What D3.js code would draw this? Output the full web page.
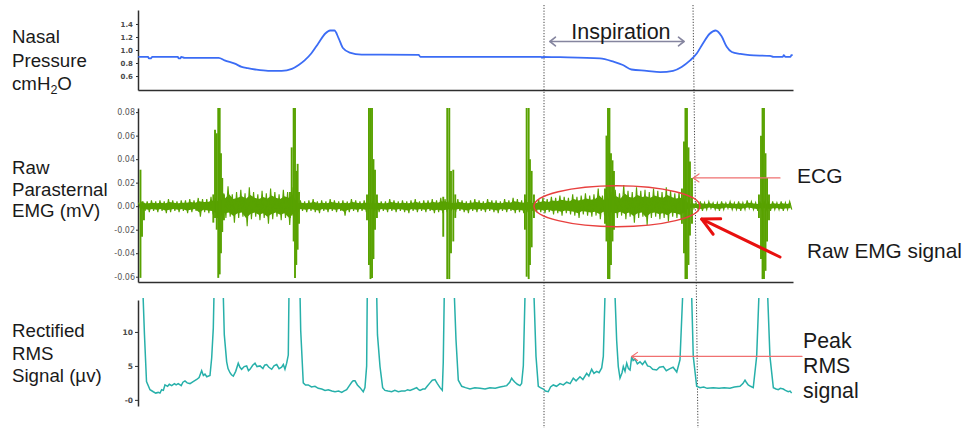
<!DOCTYPE html>
<html><head><meta charset="utf-8">
<script src="https://cdn.jsdelivr.net/npm/d3@7/dist/d3.min.js"></script>
<style>
html,body{margin:0;padding:0;background:#fff;}
svg{display:block;font-family:"Liberation Sans",Arial,sans-serif;}
</style>
</head><body>
<svg id="chart" width="965" height="428"></svg>
<script>
// ---------------- DATA ----------------
// time axis: seconds past 1:43:00
const timeDomain = [48.912, 56.609];
const xTickSeconds = [49, 50, 51, 52, 53, 54, 55, 56];
const xTickLabels = ["1:43:49","1:43:50","1:43:51","1:43:52","1:43:53","1:43:54","1:43:55","1:43:56"];

// Nasal pressure (cmH2O): [time, value]
const pressureTicks = [0.6, 0.8, 1.0, 1.2, 1.4];
const pressureSamples = [[48.915,0.895],[49.03,0.895],[49.04,0.87],[49.06,0.87],[49.08,0.895],[49.38,0.895],[49.39,0.87],[49.41,0.87],[49.42,0.895],[49.46,0.88],[49.86,0.88],[49.93,0.84],[50.05,0.79],[50.13,0.74],[50.20,0.72],[50.29,0.70],[50.44,0.68],[50.60,0.68],[50.72,0.71],[50.80,0.77],[50.87,0.84],[50.95,0.95],[51.03,1.10],[51.11,1.25],[51.17,1.30],[51.22,1.30],[51.27,1.18],[51.32,1.03],[51.40,0.96],[51.54,0.93],[52.21,0.925],[52.23,0.895],[53.65,0.895],[53.66,0.88],[53.67,0.895],[53.87,0.89],[54.34,0.87],[54.50,0.82],[54.61,0.77],[54.71,0.70],[54.89,0.68],[55.05,0.66],[55.20,0.68],[55.30,0.74],[55.40,0.84],[55.48,0.95],[55.55,1.10],[55.63,1.25],[55.70,1.30],[55.77,1.21],[55.83,1.05],[55.89,0.97],[55.99,0.94],[56.10,0.92],[56.34,0.91],[56.38,0.895],[56.49,0.895],[56.50,0.92],[56.52,0.895],[56.58,0.895],[56.59,0.92],[56.605,0.92]];

// Raw parasternal EMG (mV): noise envelope sampled every 0.05 s
const emgTicks = [-0.06,-0.04,-0.02,0.00,0.02,0.04,0.06,0.08];
const emgNoiseStart = 48.92;
const emgNoiseStep = 0.05;
const emgNoiseHigh = [
 .003,.004,.004,.005,.004,.005,.004,.006,.005,.004,.005,.005,.006,.005,.007,.006,.006,.008,.007,
 .009,.011,.017,.010,.012,.014,.011,.016,.012,.010,.013,.011,.015,.012,.010,.014,.012,.016,
 .004,.005,.004,.005,.006,.004,.005,.004,.006,.005,.004,.005,.004,.006,.005,.004,.005,.004,
 .004,.005,.004,.004,.006,.005,.004,.005,.004,.005,.006,.004,.005,.005,.006,.005,.007,.006,
 .005,.004,.006,.005,.004,.005,.006,.005,.004,.006,.005,.005,.004,.006,.005,.007,.006,.005,.006,
 .005,.004,.006,.007,.006,.008,.007,.009,.008,.007,.010,.008,.009,.011,.009,.010,.015,.009,.011,
 .012,.014,.011,.018,.013,.012,.016,.013,.014,.012,.015,.013,.012,.016,.013,.011,.012,.010,
 .003,.004,.003,.004,.003,.004,.003,.003,.004,.003,.004,.003,.004,.003,.005,.004,.003,.004,
 .004,.003,.004,.003,.004,.003,.004];
const emgNoiseLow = [
 -.003,-.004,-.005,-.004,-.005,-.004,-.006,-.005,-.004,-.005,-.004,-.006,-.005,-.004,-.009,-.005,-.006,-.007,-.010,
 -.008,-.010,-.009,-.014,-.010,-.009,-.017,-.011,-.009,-.012,-.010,-.015,-.011,-.009,-.012,-.010,-.016,-.011,
 -.005,-.004,-.005,-.004,-.005,-.006,-.004,-.005,-.004,-.005,-.004,-.008,-.005,-.004,-.005,-.004,-.005,-.004,
 -.004,-.005,-.004,-.005,-.004,-.005,-.004,-.005,-.006,-.004,-.005,-.004,-.005,-.004,-.006,-.005,-.006,-.005,
 -.004,-.005,-.004,-.005,-.006,-.004,-.005,-.004,-.005,-.004,-.005,-.006,-.004,-.005,-.004,-.006,-.005,-.006,-.005,
 -.004,-.005,-.005,-.006,-.005,-.007,-.006,-.008,-.006,-.007,-.008,-.010,-.007,-.008,-.009,-.008,-.011,-.008,-.009,
 -.009,-.010,-.008,-.011,-.009,-.014,-.010,-.009,-.016,-.010,-.009,-.011,-.010,-.013,-.009,-.010,-.012,-.009,
 -.003,-.002,-.003,-.004,-.003,-.002,-.003,-.004,-.003,-.002,-.003,-.003,-.004,-.003,-.002,-.003,-.004,-.003,
 -.003,-.004,-.003,-.003,-.004,-.003,-.003];
// ECG complexes in the EMG trace: [time, high, low]
const emgSpikes = [
 [48.941,.031,-.061],[48.959,.004,-.026],[48.982,.003,-.012],
 [49.797,.010,-.014],[49.817,.065,-.010],[49.837,.062,-.020],[49.855,.0835,-.061],[49.872,.0835,-.058],[49.887,.045,-.040],[49.902,.024,-.022],[49.922,.010,-.012],
 [50.698,.012,-.010],[50.718,.050,-.008],[50.741,.0835,-.030],[50.757,.0835,-.061],[50.772,.030,-.050],[50.788,.036,-.037],[50.804,.012,-.015],
 [51.603,.010,-.012],[51.626,.0835,-.050],[51.644,.0835,-.062],[51.662,.0835,-.061],[51.679,.040,-.045],[51.697,.031,-.020],[51.720,.010,-.010],
 [52.499,.008,-.026],[52.546,.0835,-.062],[52.570,.0835,-.062],[52.590,.030,-.040],[52.617,.031,-.030],[52.640,.010,-.010],
 [53.459,.010,-.020],[53.479,.0835,-.060],[53.503,.0835,-.062],[53.518,.040,-.050],[53.538,.030,-.035],[53.565,.010,-.010],
 [54.400,.015,-.015],[54.417,.060,-.030],[54.435,.0835,-.062],[54.452,.0835,-.062],[54.470,.045,-.050],[54.488,.039,-.030],[54.505,.030,-.020],
 [55.304,.015,-.015],[55.328,.055,-.040],[55.345,.0835,-.062],[55.363,.0835,-.062],[55.381,.050,-.050],[55.398,.038,-.025],[55.422,.024,-.015],
 [56.209,.010,-.010],[56.233,.060,-.045],[56.251,.0835,-.062],[56.268,.0835,-.062],[56.286,.045,-.055],[56.304,.024,-.030],[56.327,.010,-.012]];

// Rectified RMS signal (µV): [time, value]
const rmsTicks = [0, 5, 10];
const rmsTickLabels = ["-0", "5", "10"];
const rmsSamples = [
 [48.971,15.5],[48.988,9.6],[49.012,2.7],[49.053,1.5],[49.092,1.2],[49.12,1.0],[49.150,1.1],[49.17,1.0],[49.190,1.5],[49.21,1.4],[49.229,2.2],[49.26,2.0],[49.28,2.3],[49.308,2.1],[49.34,2.4],[49.36,2.2],[49.385,2.4],[49.42,2.1],[49.44,2.6],[49.464,2.8],[49.49,2.5],[49.523,2.4],[49.56,2.7],[49.602,3.0],[49.63,3.3],[49.660,4.3],[49.68,3.6],[49.699,3.8],[49.72,3.4],[49.758,3.6],[49.778,6.2],[49.797,10.6],[49.805,15.5],
 [49.914,15.5],[49.926,9.6],[49.954,5.6],[49.97,4.6],[49.993,4.0],[50.01,3.7],[50.032,3.5],[50.06,4.2],[50.090,5.4],[50.11,4.8],[50.130,4.5],[50.16,4.9],[50.189,5.0],[50.21,4.3],[50.228,4.5],[50.26,5.1],[50.287,5.4],[50.31,4.9],[50.346,5.0],[50.38,4.6],[50.40,5.1],[50.424,5.2],[50.45,4.8],[50.483,4.5],[50.51,5.0],[50.542,5.2],[50.57,4.6],[50.600,4.8],[50.62,5.2],[50.639,4.5],[50.659,5.4],[50.678,6.6],[50.686,15.5],
 [50.816,15.5],[50.824,10.2],[50.854,2.5],[50.88,2.2],[50.913,2.2],[50.95,1.9],[50.992,2.0],[51.03,1.7],[51.071,1.6],[51.11,1.4],[51.148,1.5],[51.19,1.3],[51.227,1.2],[51.27,1.3],[51.306,1.1],[51.33,1.3],[51.364,1.5],[51.39,2.0],[51.423,2.6],[51.44,2.8],[51.462,2.8],[51.49,2.2],[51.521,1.8],[51.559,1.2],[51.579,1.8],[51.599,5.0],[51.606,15.5],
 [51.717,15.5],[51.726,9.6],[51.756,4.9],[51.787,1.8],[51.814,1.4],[51.85,1.3],[51.893,1.2],[51.93,1.4],[51.971,1.2],[52.01,1.3],[52.049,1.3],[52.08,1.5],[52.108,1.4],[52.15,1.6],[52.187,1.8],[52.21,1.5],[52.226,1.4],[52.26,1.6],[52.285,1.6],[52.31,2.0],[52.343,2.5],[52.37,2.9],[52.402,3.0],[52.43,2.4],[52.461,1.8],[52.488,1.4],[52.499,5.5],[52.511,15.5],
 [52.629,15.5],[52.649,8.8],[52.676,2.9],[52.716,2.0],[52.76,1.8],[52.813,1.6],[52.87,1.8],[52.931,1.7],[52.99,1.6],[53.048,1.8],[53.11,1.7],[53.166,1.9],[53.21,2.0],[53.245,2.1],[53.28,2.6],[53.303,3.2],[53.32,2.9],[53.342,2.6],[53.37,2.3],[53.401,2.1],[53.42,2.4],[53.440,5.0],[53.460,15.5],
 [53.565,15.5],[53.589,6.4],[53.616,2.0],[53.64,1.8],[53.675,1.6],[53.70,1.3],[53.733,1.2],[53.76,1.9],[53.792,2.2],[53.83,2.0],[53.871,2.4],[53.91,2.2],[53.950,2.6],[53.99,2.4],[54.027,3.2],[54.06,2.8],[54.106,3.4],[54.14,3.0],[54.185,3.9],[54.21,3.5],[54.243,4.5],[54.27,3.9],[54.302,4.2],[54.33,4.0],[54.361,4.7],[54.380,6.4],[54.400,15.5],
 [54.517,15.5],[54.537,8.7],[54.556,4.9],[54.576,3.2],[54.60,4.0],[54.615,4.9],[54.635,4.2],[54.655,5.4],[54.675,4.6],[54.694,4.4],[54.714,6.4],[54.73,5.8],[54.753,6.0],[54.78,5.3],[54.811,5.6],[54.84,5.2],[54.870,5.7],[54.90,5.0],[54.929,4.9],[54.96,4.5],[55.007,4.4],[55.04,4.8],[55.085,4.9],[55.12,4.3],[55.164,4.6],[55.20,4.8],[55.243,4.1],[55.281,5.9],[55.313,15.5],
 [55.418,15.5],[55.437,6.4],[55.477,2.0],[55.516,1.8],[55.56,1.9],[55.60,1.7],[55.672,1.8],[55.74,1.7],[55.80,1.8],[55.868,1.7],[55.92,1.9],[55.986,2.0],[56.02,2.4],[56.045,2.9],[56.06,2.6],[56.083,2.2],[56.11,2.0],[56.142,1.8],[56.182,6.4],[56.209,15.5],
 [56.311,15.5],[56.338,6.4],[56.378,1.8],[56.41,1.6],[56.436,1.5],[56.46,1.7],[56.495,1.6],[56.52,1.4],[56.553,1.2],[56.575,1.3],[56.593,1.0]];

// annotations (in data units)
const markerLines = [[53.683, 53.683], [55.434, 55.492]]; // [time at top, time at bottom]
const inspiration = [53.753, 55.328];
const ellipseCenter = [54.540, 0.0];
const ellipseRadius = [0.975, 0.0174];
const ecgArrowTip = [55.437, 0.024];
const rawArrowTip = [55.536, -0.011];
const peakArrowTip = [54.714, 6.4];

// ---------------- DRAW ----------------
const svg = d3.select("#chart");
const x = d3.scaleLinear().domain(timeDomain).range([138, 793]);
const yP = d3.scaleLinear().domain([0.385, 1.615]).range([90, 10]);
const yE = d3.scaleLinear().domain([-0.0645, 0.0835]).range([282, 108]);
const yR = d3.scaleLinear().domain([-0.9, 14.7]).range([406, 300]);

const defs = svg.append("defs");
function clip(id, y0, y1){
  defs.append("clipPath").attr("id", id).append("rect")
    .attr("x", 138).attr("y", y0).attr("width", 656).attr("height", y1 - y0);
}
clip("cp", 6, 90); clip("ce", 106, 282); clip("cr", 298, 406);
defs.append("clipPath").attr("id","cx").append("rect").attr("x",137).attr("y",395).attr("width",828).attr("height",33);

const axisColor = "#2e2e2e";
function styleAxis(g, fs, weight, fill){
  g.select(".domain").attr("stroke", axisColor).attr("stroke-width", 1.5);
  g.selectAll(".tick line").attr("stroke", axisColor);
  g.selectAll("text").attr("font-family","DejaVu Sans, sans-serif").attr("font-size", fs)
    .attr("font-weight", weight).attr("fill", fill);
}

// dotted marker lines
svg.append("g").selectAll("line").data(markerLines).join("line")
  .attr("x1", d => x(d[0])).attr("x2", d => x(d[1]))
  .attr("y1", 5).attr("y2", 428)
  .attr("stroke", "#444").attr("stroke-width", 1).attr("stroke-dasharray", "1.2,1.6");

// ---- top panel
svg.append("g").attr("transform","translate(138,0)")
  .call(d3.axisLeft(yP).tickValues(pressureTicks).tickFormat(d3.format(".1f")).tickSize(2).tickSizeOuter(0).tickPadding(3))
  .call(g => styleAxis(g, 7, "bold", "#4a4a4a"));
svg.append("g").attr("transform","translate(0,90)")
  .call(d3.axisBottom(x).tickValues([]).tickSizeOuter(0))
  .call(g => styleAxis(g, 7, "normal", "#444"));

svg.append("path").datum(pressureSamples).attr("clip-path","url(#cp)")
  .attr("d", d3.line().x(d => x(d[0])).y(d => yP(d[1])).curve(d3.curveMonotoneX))
  .attr("fill","none").attr("stroke","#3b6cf5").attr("stroke-width",1.8);

// ---- middle panel
svg.append("g").attr("transform","translate(138,0)")
  .call(d3.axisLeft(yE).tickValues(emgTicks).tickFormat(d => d.toFixed(2)).tickSize(2).tickSizeOuter(0).tickPadding(1))
  .call(g => styleAxis(g, 8, "normal", "#555"));
svg.append("g").attr("transform","translate(0,282)")
  .call(d3.axisBottom(x).tickValues([]).tickSizeOuter(0))
  .call(g => styleAxis(g, 7, "normal", "#444"));

const emgGreen = "#58a200";
const nN = Math.min(emgNoiseHigh.length, emgNoiseLow.length);
const bins = d3.range(nN).map(i => ({t: emgNoiseStart + i * emgNoiseStep, hi: emgNoiseHigh[i], lo: emgNoiseLow[i]}));
const zig = [];
bins.forEach(b => { zig.push([b.t, b.hi]); zig.push([b.t + emgNoiseStep / 2, b.lo]); });
const eG = svg.append("g").attr("clip-path","url(#ce)");
// solid core of the noise band
eG.append("path").datum(bins)
  .attr("d", d3.area().x(d => x(d.t + emgNoiseStep / 4)).y0(d => yE(d.lo * 0.6)).y1(d => yE(d.hi * 0.6)))
  .attr("fill", emgGreen);
// spiky excursions
eG.append("path").datum(zig)
  .attr("d", d3.line().x(d => x(d[0])).y(d => yE(d[1])))
  .attr("fill","none").attr("stroke",emgGreen).attr("stroke-width",1.1);
eG.selectAll("line.sp").data(emgSpikes).join("line").attr("class","sp")
  .attr("x1", d => x(d[0])).attr("x2", d => x(d[0]))
  .attr("y1", d => yE(d[1])).attr("y2", d => yE(d[2]))
  .attr("stroke",emgGreen).attr("stroke-width",1.9);

// ---- bottom panel
svg.append("g").attr("transform","translate(138,0)")
  .call(d3.axisLeft(yR).tickValues(rmsTicks).tickFormat((d,i) => rmsTickLabels[i]).tickSize(3).tickSizeOuter(0).tickPadding(2))
  .call(g => styleAxis(g, 7.5, "bold", "#4a4a4a"));
svg.append("g").attr("transform","translate(0,406)").attr("clip-path","url(#cx)")
  .call(d3.axisBottom(x).tickValues(xTickSeconds).tickFormat((d,i) => xTickLabels[i]).tickSize(4).tickSizeOuter(0).tickPadding(2))
  .call(g => styleAxis(g, 8.5, "normal", "#555"));

svg.append("path").datum(rmsSamples).attr("clip-path","url(#cr)")
  .attr("d", d3.line().x(d => x(d[0])).y(d => yR(d[1])))
  .attr("fill","none").attr("stroke","#27b0aa").attr("stroke-width",1.5);

// ---- annotations
function arrow(x1, y1, x2, y2, color, w, len, ang, both){
  const g = svg.append("g").attr("stroke", color).attr("stroke-width", w).attr("fill","none")
    .attr("stroke-linecap","round").attr("stroke-linejoin","round");
  g.append("line").attr("x1",x1).attr("y1",y1).attr("x2",x2).attr("y2",y2);
  function head(tx, ty, fx, fy){
    const a = Math.atan2(fy - ty, fx - tx);
    const r = ang * Math.PI / 180;
    g.append("polyline").attr("points", [
      [tx + len*Math.cos(a+r), ty + len*Math.sin(a+r)],
      [tx, ty],
      [tx + len*Math.cos(a-r), ty + len*Math.sin(a-r)]].map(p => p.join(",")).join(" "));
  }
  head(x2, y2, x1, y1);
  if (both) head(x1, y1, x2, y2);
}

arrow(x(inspiration[0]), 41.5, x(inspiration[1]), 41.5, "#85859f", 1.6, 7, 38, true);
svg.append("text").attr("x", x((inspiration[0] + inspiration[1]) / 2) + 4).attr("y", 39)
  .attr("text-anchor","middle").attr("font-size", 21.5).attr("fill","#1a1a1a").text("Inspiration");

svg.append("ellipse")
  .attr("cx", x(ellipseCenter[0])).attr("cy", yE(ellipseCenter[1]))
  .attr("rx", x(ellipseCenter[0] + ellipseRadius[0]) - x(ellipseCenter[0]))
  .attr("ry", yE(ellipseCenter[1]) - yE(ellipseCenter[1] + ellipseRadius[1]))
  .attr("fill","none").attr("stroke","#e8403f").attr("stroke-width",1.5);

arrow(780, yE(ecgArrowTip[1]), x(ecgArrowTip[0]), yE(ecgArrowTip[1]), "#f07070", 1.2, 7, 35, false);
arrow(780, 257, x(rawArrowTip[0]), yE(rawArrowTip[1]), "#e8100f", 3, 19, 27, false);
arrow(802, yR(peakArrowTip[1]), x(peakArrowTip[0]), yR(peakArrowTip[1]), "#f07070", 1.2, 7, 35, false);

// ---- text labels
const labelColor = "#1a1a1a";
function lines(xp, ys, texts, fs){
  texts.forEach((t, i) => {
    svg.append("text").attr("x", xp).attr("y", ys[i]).attr("font-size", fs).attr("fill", labelColor).text(t);
  });
}
lines(12, [43, 66.5], ["Nasal", "Pressure"], 18.7);
const cm = svg.append("text").attr("x", 12).attr("y", 90).attr("font-size", 18.7).attr("fill", labelColor);
cm.append("tspan").text("cmH");
cm.append("tspan").attr("font-size", 12.5).attr("dy", 4).text("2");
cm.append("tspan").attr("dy", -4).text("O");
lines(12, [173.5, 195.5, 217], ["Raw", "Parasternal", "EMG (mV)"], 18.7);
lines(12, [337, 360, 382], ["Rectified", "RMS", "Signal (µv)"], 18.7);

lines(797, [182.5], ["ECG"], 21);
lines(807, [258], ["Raw EMG signal"], 20.8);
lines(803, [347.5, 372.5, 397.5], ["Peak", "RMS", "signal"], 21.3);
</script>
</body></html>
